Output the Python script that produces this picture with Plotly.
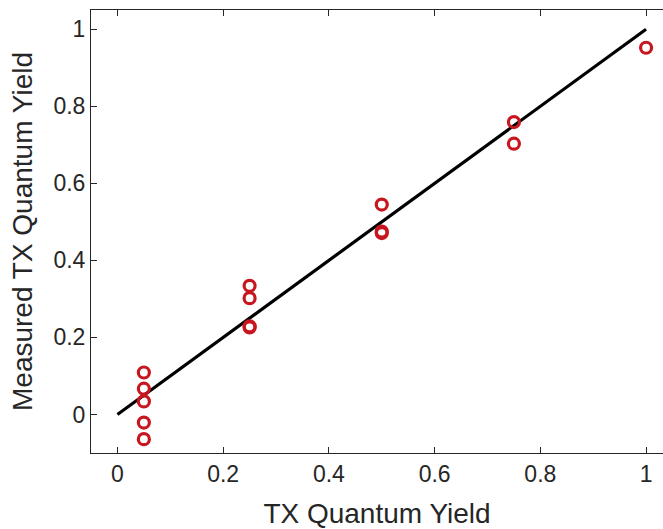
import plotly.graph_objects as go

# Nominal vs measured TX quantum yield
nominal_qy = [0.05, 0.05, 0.05, 0.05, 0.05,
              0.25, 0.25, 0.25, 0.25,
              0.5, 0.5, 0.5,
              0.75, 0.75,
              1.0]
measured_qy = [0.109, 0.067, 0.034, -0.021, -0.064,
               0.334, 0.302, 0.229, 0.226,
               0.545, 0.475, 0.471,
               0.759, 0.703,
               0.952]

# Identity reference line
ideal_x = [0, 1]
ideal_y = [0, 1]

x_ticks = [0, 0.2, 0.4, 0.6, 0.8, 1]
x_tick_text = ["0", "0.2", "0.4", "0.6", "0.8", "1"]
y_ticks = [0, 0.2, 0.4, 0.6, 0.8, 1]
y_tick_text = ["0", "0.2", "0.4", "0.6", "0.8", "1"]

axis_color = "#262626"
marker_color = "#C8161F"
font_family = "Liberation Sans, Arial, sans-serif"

fig = go.Figure()
fig.add_trace(go.Scatter(
    x=ideal_x, y=ideal_y, mode="lines",
    line=dict(color="black", width=3.2),
    showlegend=False, hoverinfo="skip",
))
fig.add_trace(go.Scatter(
    x=nominal_qy, y=measured_qy, mode="markers",
    marker=dict(symbol="circle-open", size=11,
                color=marker_color, line=dict(width=3.2, color=marker_color)),
    showlegend=False,
))

fig.update_layout(
    width=663, height=529,
    margin=dict(l=91, r=0, t=10, b=76),
    paper_bgcolor="white", plot_bgcolor="white",
    font=dict(family=font_family, color=axis_color, size=23),
    xaxis=dict(
        range=[-0.05, 1.032],
        tickvals=x_ticks, ticktext=x_tick_text,
        ticks="inside", ticklen=6, tickwidth=1, tickcolor=axis_color,
        showline=True, linecolor=axis_color, linewidth=1,
        mirror="ticks", showgrid=False, zeroline=False,
        tickfont=dict(size=23, color=axis_color),
        title=dict(text="TX Quantum Yield", font=dict(size=28, color=axis_color),
                   standoff=17),
    ),
    yaxis=dict(
        range=[-0.1, 1.05],
        tickvals=y_ticks, ticktext=y_tick_text,
        ticks="inside", ticklen=6, tickwidth=1, tickcolor=axis_color,
        showline=True, linecolor=axis_color, linewidth=1,
        mirror=False, showgrid=False, zeroline=False,
        tickfont=dict(size=23, color=axis_color),
        title=dict(text="Measured TX Quantum Yield", font=dict(size=28, color=axis_color),
                   standoff=12),
    ),
)

fig.write_html("out.html")
